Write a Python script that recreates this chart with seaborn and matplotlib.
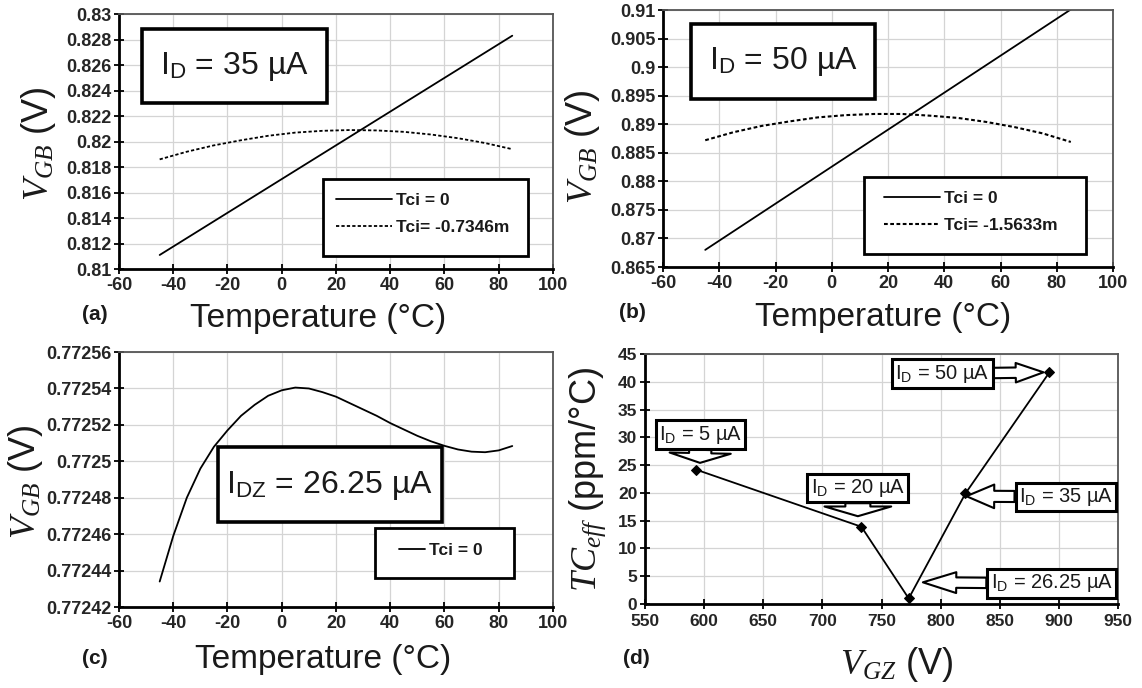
import numpy as np
import matplotlib
matplotlib.use("Agg")
import matplotlib.pyplot as plt
from matplotlib.patches import Rectangle
import seaborn as sns

# ---- (a) I_D = 35 uA ----
temp_line = [-45, 85]
vgb_a_tci0 = [0.8111, 0.8283]
temp_curve = [-45, -35, -25, -15, -5, 5, 15, 25, 35, 45, 55, 65, 75, 85]
vgb_a_tci = [0.8186, 0.8192, 0.8197, 0.8201, 0.82045, 0.8207, 0.82084,
             0.8209, 0.82087, 0.82076, 0.82055, 0.82026, 0.81988, 0.8194]

# ---- (b) I_D = 50 uA ----
vgb_b_tci0 = [0.8680, 0.9101]
vgb_b_tci = [0.8872, 0.8886, 0.8897, 0.8905, 0.8912, 0.8916, 0.8918,
             0.8918, 0.8915, 0.8911, 0.8904, 0.8895, 0.8884, 0.8869]

# ---- (c) I_DZ = 26.25 uA ----
temp_c = [-45, -40, -35, -30, -25, -20, -15, -10, -5, 0, 5, 10, 15, 20,
          25, 30, 35, 40, 45, 50, 55, 60, 65, 70, 75, 80, 85]
vgb_c = [0.772434, 0.772459, 0.772480, 0.772496, 0.772508, 0.772517,
         0.772525, 0.772531, 0.772536, 0.772539, 0.7725405, 0.772540,
         0.772538, 0.7725355, 0.772532, 0.7725285, 0.772525, 0.772521,
         0.7725175, 0.772514, 0.772511, 0.7725085, 0.7725065, 0.7725053,
         0.772505, 0.772506, 0.7725084]

# ---- (d) effective TC versus V_GZ ----
vgz = [593, 733, 773, 821, 892]
tc_eff = [24.2, 13.9, 1.0, 19.9, 41.7]
id_labels = ["5", "20", "26.25", "35", "50"]

legend_a = ["Tci = 0", "Tci= -0.7346m"]
legend_b = ["Tci = 0", "Tci= -1.5633m"]
legend_c = ["Tci = 0"]

sns.set_theme(style="whitegrid")
plt.rcParams.update({
    "font.family": ["Liberation Sans", "DejaVu Sans"],
    "mathtext.fontset": "custom",
    "mathtext.it": "Liberation Serif:italic",
    "mathtext.rm": "Liberation Serif",
    "mathtext.bf": "Liberation Serif:bold",
    "text.color": "#1a1a1a",
    "axes.facecolor": "white",
    "figure.facecolor": "white",
})

INK = "#1a1a1a"
fig = plt.figure(figsize=(11.42, 6.88), dpi=100)
ax_a = fig.add_axes([0.1042, 0.6090, 0.3800, 0.3706])
ax_b = fig.add_axes([0.5806, 0.6119, 0.3940, 0.3735])
ax_c = fig.add_axes([0.1042, 0.1177, 0.3800, 0.3706])
ax_d = fig.add_axes([0.5648, 0.1221, 0.4142, 0.3634])


def fmt(v):
    return f"{round(v, 7):g}"


def style_axes(ax, xticks, yticks, size=13, xpad=2):
    ax.set_xlim(xticks[0], xticks[-1])
    ax.set_ylim(yticks[0], yticks[-1])
    ax.set_xticks(xticks, labels=[fmt(v) for v in xticks],
                  fontweight="bold", fontsize=size, color="#252525")
    ax.set_yticks(yticks, labels=[fmt(v) for v in yticks],
                  fontweight="bold", fontsize=size, color="#252525")
    ax.grid(True, color="#d4d4d4", linewidth=0.9)
    for s in ("left", "bottom"):
        ax.spines[s].set_color("black")
        ax.spines[s].set_linewidth(2.0)
    for s in ("top", "right"):
        ax.spines[s].set_color("#555555")
        ax.spines[s].set_linewidth(1.3)
    ax.tick_params(axis="both", which="major", direction="inout", length=7,
                   width=1.3, color="black", pad=2, left=True, bottom=True)
    ax.tick_params(axis="x", pad=xpad)


def boxed_text(ax, x0, y0, x1, y1, text, tx, ty, size=23):
    ax.add_patch(Rectangle((x0, y0), x1 - x0, y1 - y0, transform=ax.transAxes,
                           fc="white", ec="black", lw=2.6, zorder=4))
    ax.text(tx, ty, text, transform=ax.transAxes, ha="center", va="center",
            fontsize=size, color=INK, zorder=6)


def legend_box(ax, x0, y0, x1, y1, anchor, handlelength):
    ax.add_patch(Rectangle((x0, y0), x1 - x0, y1 - y0, transform=ax.transAxes,
                           fc="white", ec="black", lw=2.0, zorder=4))
    leg = ax.legend(loc="upper left", bbox_to_anchor=anchor, frameon=False,
                    borderpad=0, borderaxespad=0, handlelength=handlelength,
                    handletextpad=0.25, labelspacing=0.7,
                    prop={"weight": "bold", "size": 12.5})
    leg.set_zorder(6)


temp_ticks = list(range(-60, 101, 20))
dotted = (0, (1.8, 1.2))

# (a)
sns.lineplot(x=temp_line, y=vgb_a_tci0, ax=ax_a, color="black", linewidth=1.3,
             label=legend_a[0])
sns.lineplot(x=temp_curve, y=vgb_a_tci, ax=ax_a, color="black", linewidth=1.3,
             linestyle=dotted, label=legend_a[1])
style_axes(ax_a, temp_ticks, np.linspace(0.81, 0.83, 11))
boxed_text(ax_a, 0.053, 0.651, 0.479, 0.941, r"I$_\mathregular{D}$ = 35 µA",
           0.266, 0.796)
legend_box(ax_a, 0.470, 0.051, 0.942, 0.353, (0.50, 0.300), 3.2)

# (b)
sns.lineplot(x=temp_line, y=vgb_b_tci0, ax=ax_b, color="black", linewidth=1.3,
             label=legend_b[0])
sns.lineplot(x=temp_curve, y=vgb_b_tci, ax=ax_b, color="black", linewidth=1.5,
             linestyle=dotted, label=legend_b[1])
style_axes(ax_b, temp_ticks, np.linspace(0.865, 0.91, 10))
boxed_text(ax_b, 0.062, 0.654, 0.471, 0.946, r"I$_\mathregular{D}$ = 50 µA",
           0.267, 0.80)
legend_box(ax_b, 0.447, 0.051, 0.940, 0.350, (0.491, 0.296), 3.2)

# (c)
sns.lineplot(x=temp_c, y=vgb_c, ax=ax_c, color="black", linewidth=1.3,
             label=legend_c[0])
style_axes(ax_c, temp_ticks, np.linspace(0.77242, 0.77256, 8))
boxed_text(ax_c, 0.228, 0.333, 0.744, 0.627, r"I$_\mathregular{DZ}$ = 26.25 µA",
           0.486, 0.478)
legend_box(ax_c, 0.590, 0.114, 0.910, 0.310, (0.645, 0.252), 1.5)

# (d)
sns.lineplot(x=vgz, y=tc_eff, ax=ax_d, color="black", linewidth=1.3,
             marker="D", markersize=5, markeredgecolor="black", sort=False)
style_axes(ax_d, list(range(550, 951, 50)), list(range(0, 46, 5)),
           size=12.5, xpad=3.5)

# label box centre, arrow tip, arrow shape (points)
annot_layout = {
    "5": ((597, 30.5), (596.5, 25.4), (7, 44, 16)),
    "20": ((730, 20.9), (730, 15.8), (7, 48, 18)),
    "26.25": ((894, 3.7), (785, 3.9), (24, 15, 7.5)),
    "35": ((906, 19.3), (821.8, 19.4), (20, 17, 8)),
    "50": ((801.5, 41.45), (887, 41.7), (20, 14, 7.5)),
}
for lab in id_labels:
    (tx, ty), (hx, hy), (hl, hw, tw) = annot_layout[lab]
    ax_d.annotate(
        r"I$_\mathregular{D}$ = " + lab + " µA", xy=(hx, hy), xytext=(tx, ty),
        ha="center", va="center", fontsize=14.5, color=INK, zorder=6,
        bbox=dict(boxstyle="square,pad=0.16", fc="white", ec="black", lw=2.2),
        arrowprops=dict(
            arrowstyle=f"simple,head_length={hl},head_width={hw},tail_width={tw}",
            fc="white", ec="black", lw=1.5, shrinkA=0, shrinkB=0,
            mutation_scale=1))

# axis titles
for ax, lx, ly in ((ax_a, 0.458, -0.196), (ax_b, 0.489, -0.198),
                   (ax_c, 0.470, -0.204)):
    ax.set_xlabel("Temperature (°C)", fontsize=24, color=INK, va="center")
    ax.xaxis.set_label_coords(lx, ly)
for ax, lx, ly in ((ax_a, -0.185, 0.49), (ax_b, -0.18, 0.47),
                   (ax_c, -0.215, 0.49)):
    ax.set_ylabel(r"$V_{GB}$ (V)", fontsize=26, color=INK, va="center")
    ax.yaxis.set_label_coords(lx, ly)
ax_d.set_xlabel(r"$V_{GZ}$ (V)", fontsize=26, color=INK, va="center")
ax_d.xaxis.set_label_coords(0.531, -0.244)
ax_d.set_ylabel(r"$TC_{eff}$ (ppm/°C)", fontsize=26, color=INK, va="center")
ax_d.yaxis.set_label_coords(-0.12, 0.50)

# panel tags
for tag, x, y in (("(a)", 95, 315), ("(b)", 632, 313), ("(c)", 95, 658),
                  ("(d)", 636, 658)):
    fig.text(x / 1142, 1 - y / 688, tag, ha="center", va="center",
             fontsize=15, fontweight="bold", color=INK)

fig.savefig("out.png", dpi=100)
